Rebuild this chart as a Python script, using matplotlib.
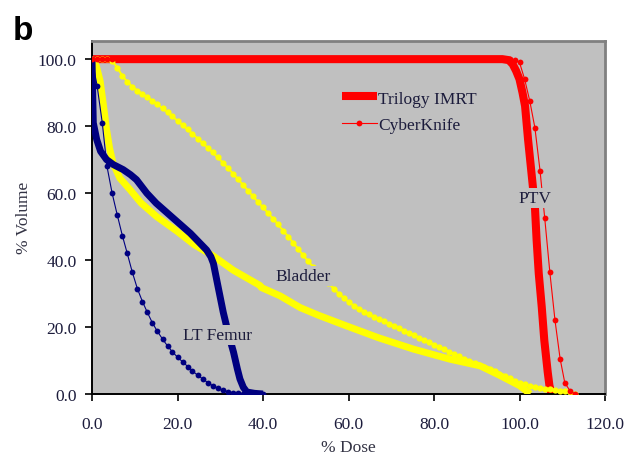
from matplotlib import pyplot as plt
from matplotlib.ticker import FormatStrFormatter

# CyberKnife DVH points are sampled on a common dose grid (% dose)
ck_dose = [
    0.0, 1.2, 2.4, 3.5, 4.7, 5.9, 7.1, 8.2, 9.4, 10.6,
    11.8, 12.9, 14.1, 15.3, 16.5, 17.7, 18.8, 20.0, 21.2, 22.4,
    23.5, 24.7, 25.9, 27.1, 28.2, 29.4, 30.6, 31.8, 33.0, 34.1,
    35.3, 36.5, 37.7, 38.8, 40.0, 41.2, 42.4, 43.5, 44.7, 45.9,
    47.1, 48.3, 49.4, 50.6, 51.8, 53.0, 54.1, 55.3, 56.5, 57.7,
    58.9, 60.0, 61.2, 62.4, 63.6, 64.7, 65.9, 67.1, 68.3, 69.4,
    70.6, 71.8, 73.0, 74.2, 75.3, 76.5, 77.7, 78.9, 80.0, 81.2,
    82.4, 83.6, 84.7, 85.9, 87.1, 88.3, 89.5, 90.6, 91.8, 93.0,
    94.2, 95.3, 96.5, 97.7, 98.9, 100.0, 101.2, 102.4, 103.6, 104.8,
    105.9, 107.1, 108.3, 109.5, 110.6, 111.8, 113.0,
]

ck_ptv = [100.0] * 84 + [
    99.8, 99.0, 94.0, 87.5, 79.5, 66.7, 52.5, 36.3, 22.0, 10.5,
    3.3, 1.0, 0.0,
]

ck_bladder = [
    100.0, 100.0, 100.0, 100.0, 99.5, 97.5, 95.0, 93.3, 91.8, 90.6,
    89.6, 88.7, 87.6, 86.5, 85.3, 84.1, 82.9, 81.6, 80.3, 79.0,
    77.7, 76.3, 74.9, 73.5, 72.2, 70.7, 69.1, 67.5, 65.8, 64.2,
    62.5, 60.7, 59.0, 57.4, 55.7, 54.0, 52.3, 50.7, 48.8, 47.0,
    45.1, 43.2, 41.4, 39.6, 37.9, 36.2, 34.6, 33.1, 31.5, 30.0,
    28.7, 27.5, 26.4, 25.5, 24.6, 23.8, 23.1, 22.4, 21.7, 21.0,
    20.3, 19.6, 18.9, 18.2, 17.5, 16.8, 16.1, 15.4, 14.7, 14.0,
    13.3, 12.6, 11.9, 11.2, 10.6, 10.0, 9.4, 8.8, 8.2, 7.5,
    6.8, 6.1, 5.4, 4.7, 4.0, 3.4, 2.9, 2.4, 2.1, 1.8,
    1.6, 1.4, 1.2, 1.0, 0.8, 0.5, 0.0,
]

ck_femur = [
    100.0, 92.0, 81.0, 68.0, 60.0, 53.5, 47.3, 42.2, 36.5, 31.5,
    27.6, 24.5, 21.3, 18.7, 16.4, 14.3, 12.6, 11.0, 9.6, 8.2,
    6.9, 5.6, 4.5, 3.4, 2.5, 1.7, 1.1, 0.7, 0.4, 0.2,
    0.1, 0.1, 0.0, 0.0, 0.0,
]

# Trilogy IMRT curves (dose, volume)
tri_ptv_dose = [0.0, 96.0, 97.5, 98.4, 99.2, 100.0, 100.7, 101.3, 102.0, 102.8,
                103.6, 104.0, 104.5, 105.2, 105.8, 106.6, 107.0, 107.5]
tri_ptv_vol = [100.0, 100.0, 99.7, 98.5, 96.5, 94.0, 90.0, 86.0, 76.0, 66.0,
               56.0, 46.0, 36.0, 26.0, 16.0, 6.5, 2.5, 0.0]

tri_bladder_dose = [0.0, 1.0, 1.9, 2.7, 3.4, 4.1, 4.9, 6.5, 8.9, 11.5,
                    15.1, 20.0, 24.0, 28.4, 33.0, 39.3, 39.6, 44.0, 48.7, 53.0,
                    59.6, 67.0, 75.2, 83.7, 90.8, 95.0, 100.0, 102.5]
tri_bladder_vol = [100.0, 98.0, 93.5, 86.0, 79.0, 73.5, 69.0, 64.5, 61.0, 57.0,
                   53.0, 48.5, 44.5, 41.2, 37.0, 32.4, 31.8, 29.3, 25.8, 23.5,
                   20.3, 16.8, 13.4, 10.4, 8.4, 5.8, 2.5, 0.0]

tri_femur_dose = [0.0, 0.3, 1.1, 2.0, 3.4, 5.0, 7.3, 9.0, 10.4, 12.8,
                  15.0, 19.0, 23.0, 26.8, 27.8, 28.4, 29.5, 30.7, 32.0, 33.1,
                  34.0, 34.6, 35.4, 36.2, 38.0, 40.0]
tri_femur_vol = [100.0, 81.0, 76.0, 72.5, 70.0, 68.5, 67.0, 65.5, 64.0, 60.0,
                 57.0, 52.5, 48.0, 43.0, 41.0, 39.0, 32.0, 24.4, 17.5, 12.5,
                 7.5, 4.5, 2.0, 0.6, 0.2, 0.0]

x_ticks = [0, 20, 40, 60, 80, 100, 120]
y_ticks = [0, 20, 40, 60, 80, 100]

RED = "#ff0000"
YELLOW = "#ffff00"
NAVY = "#000080"
BG = "#c0c0c0"
TXT = "#1c1c3c"

plt.rcParams["font.family"] = ["Liberation Serif", "DejaVu Serif"]

fig = plt.figure(figsize=(6.28, 4.60), dpi=100)
ax = fig.add_axes([0.1465, 0.1413, 0.8169, 0.768])
ax.set_facecolor(BG)

tri_line, = ax.plot(tri_ptv_dose, tri_ptv_vol, color=RED, lw=5.8,
                    solid_capstyle="butt", label="Trilogy IMRT", zorder=2)
ax.plot(tri_bladder_dose, tri_bladder_vol, color=YELLOW, lw=5.0,
        solid_capstyle="butt", zorder=3)
ax.plot(ck_dose, ck_bladder, color=YELLOW, lw=1.5, marker="o",
        markersize=4.5, markeredgewidth=0, zorder=3)
ax.plot(tri_femur_dose, tri_femur_vol, color=NAVY, lw=5.0,
        solid_capstyle="butt", zorder=4)
ax.plot(ck_dose[:len(ck_femur)], ck_femur, color=NAVY, lw=0.8, marker="o",
        markersize=4.2, markeredgewidth=0, zorder=4)
ck_line, = ax.plot(ck_dose, ck_ptv, color=RED, lw=0.8, marker="o",
                   markersize=4.2, markeredgewidth=0, label="CyberKnife", zorder=5)

box = dict(facecolor=BG, edgecolor="none", pad=1.5)
ax.text(103.5, 58.5, "PTV", fontsize=12.5, color=TXT, ha="center", va="center",
        bbox=box, zorder=6)
ax.text(49.3, 35.3, "Bladder", fontsize=12.5, color=TXT, ha="center", va="center",
        bbox=box, zorder=6)
ax.text(29.3, 17.6, "LT Femur", fontsize=12.5, color=TXT, ha="center", va="center",
        bbox=box, zorder=6)

ax.legend(handles=[tri_line, ck_line], loc="upper left", bbox_to_anchor=(0.47, 0.884),
          frameon=False, fontsize=12.5, handlelength=2.0, handletextpad=0.1,
          borderpad=0, labelspacing=0.58, labelcolor=TXT)

ax.set_xlim(0, 120)
ax.set_ylim(0, 105.5)
ax.set_xticks(x_ticks)
ax.set_yticks(y_ticks)
ax.xaxis.set_major_formatter(FormatStrFormatter("%.1f"))
ax.yaxis.set_major_formatter(FormatStrFormatter("%.1f"))
ax.tick_params(direction="out", length=5, width=1.2, labelsize=12.5,
               labelcolor=TXT)
ax.tick_params(axis="x", pad=11)
ax.tick_params(axis="y", pad=6)

for side in ("left", "bottom"):
    ax.spines[side].set_color("black")
    ax.spines[side].set_linewidth(1.4)
for side in ("top", "right"):
    ax.spines[side].set_color("#808080")
    ax.spines[side].set_linewidth(2.0)

ax.set_xlabel("% Dose", fontsize=12.5, color="#333344", labelpad=5)
ax.set_ylabel("% Volume", fontsize=12.5, color="#333344", labelpad=4)

fig.text(13 / 628, 1 - 40 / 460, "b", fontsize=24, fontweight="bold",
         family="Liberation Sans", va="baseline", ha="left")

fig.savefig("out.png", dpi=100)
